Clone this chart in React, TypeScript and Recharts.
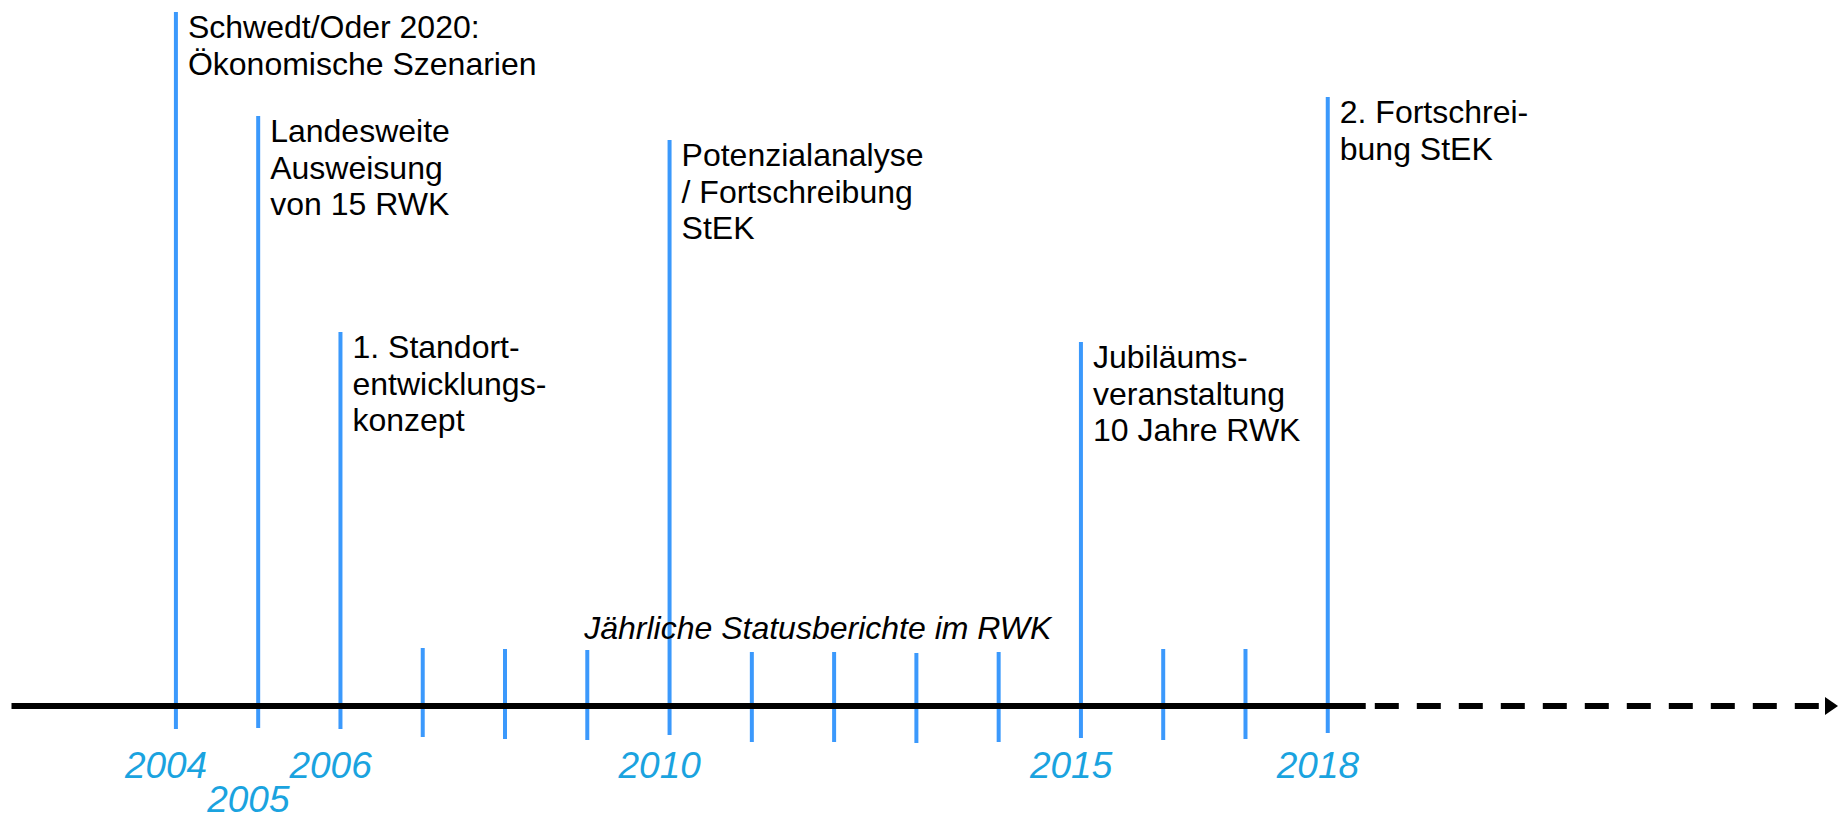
import React from "react";
import {
  ComposedChart,
  Bar,
  XAxis,
  YAxis,
  ReferenceLine,
  LabelList,
} from "recharts";

// timeline years, one stem per year
const years = [
  2004, 2005, 2006, 2007, 2008, 2009, 2010, 2011, 2012, 2013, 2014, 2015, 2016,
  2017, 2018,
];
// stem top / bottom, height above the time axis
const stemTop = [694, 590, 374, 58, 57, 56, 566, 54, 54, 53, 54, 364, 57, 57, 609];
const stemBottom = [
  -23, -22, -23, -31, -33, -34, -29, -36, -36, -37, -36, -32, -34, -33, -27,
];
const eventText: string[][] = [
  ["Schwedt/Oder 2020:", "Ökonomische Szenarien"],
  ["Landesweite", "Ausweisung", "von 15 RWK"],
  ["1. Standort-", "entwicklungs-", "konzept"],
  [],
  [],
  [],
  ["Potenzialanalyse", "/ Fortschreibung", "StEK"],
  [],
  [],
  [],
  [],
  ["Jubiläums-", "veranstaltung", "10 Jahre RWK"],
  [],
  [],
  ["2. Fortschrei-", "bung StEK"],
];
const yearLabels = [2004, 2005, 2006, 2010, 2015, 2018];
const staggeredYears = [2005];
const annualNote = "Jährliche Statusberichte im RWK";
const annualNoteSpan = [2007, 2016.6];
const annualNoteLevel = 67;

const X_DOMAIN: [number, number] = [2002, 2024.2];
const SOLID_END = 2018.46;
const DASH_START = 2018.57;

const STEM = "#3b99fc";
const YEAR_COLOR = "#1aa3df";
const FONT = "'Liberation Sans', Arial, Helvetica, sans-serif";

const data = years.map((year, i) => ({
  year,
  range: [stemBottom[i], stemTop[i]],
}));

const EventLabel = (props: any) => {
  const vb = props.viewBox ?? props;
  const lines = eventText[years.indexOf(props.value)];
  if (!lines || lines.length === 0) return null;
  const top = Math.min(vb.y, vb.y + vb.height);
  const tx = vb.x + vb.width + 10;
  return (
    <text x={tx} y={top + 26} fontSize={32} fill="#000" fontFamily={FONT}>
      {lines.map((line, i) => (
        <tspan key={i} x={tx} dy={i === 0 ? 0 : 36.5}>
          {line}
        </tspan>
      ))}
    </text>
  );
};

const YearTick = (props: any) => {
  const { x, y, payload } = props;
  const low = staggeredYears.includes(payload.value);
  return (
    <text
      x={x - 10}
      y={y + (low ? 67 : 33)}
      textAnchor="middle"
      fontSize={37}
      fontStyle="italic"
      fill={YEAR_COLOR}
      fontFamily={FONT}
    >
      {payload.value}
    </text>
  );
};

const DashedArrow = (props: any) => {
  const { x1, y1, x2, y2 } = props;
  return (
    <g>
      <line
        x1={x1}
        y1={y1}
        x2={x2 - 12}
        y2={y2}
        stroke="#000"
        strokeWidth={6}
        strokeDasharray="24 18"
      />
      <polygon
        points={`${x2 - 13},${y2 - 9} ${x2},${y2} ${x2 - 13},${y2 + 9}`}
        fill="#000"
      />
    </g>
  );
};

const NoteLabel = (props: any) => {
  const vb = props.viewBox;
  return (
    <text
      x={vb.x + vb.width / 2}
      y={vb.y}
      textAnchor="middle"
      fontSize={32}
      fontStyle="italic"
      fill="#000"
      fontFamily={FONT}
    >
      {annualNote}
    </text>
  );
};

const App = () => {
  return (
    <div style={{ position: "absolute", left: 0, top: 0, fontFamily: FONT }}>
      <ComposedChart
        width={1838}
        height={821}
        data={data}
        margin={{ top: 0, right: 0, bottom: 0, left: 11.5 }}
      >
        <XAxis
          type="number"
          dataKey="year"
          domain={X_DOMAIN}
          allowDataOverflow
          ticks={yearLabels}
          tick={<YearTick />}
          axisLine={false}
          tickLine={false}
          tickSize={0}
          tickMargin={0}
          height={76}
          interval={0}
        />
        <YAxis type="number" domain={[-39, 706]} allowDataOverflow hide width={0} />
        <ReferenceLine
          segment={[
            { x: X_DOMAIN[0], y: 0 },
            { x: SOLID_END, y: 0 },
          ]}
          stroke="#000"
          strokeWidth={6}
          ifOverflow="visible"
        />
        <ReferenceLine
          segment={[
            { x: DASH_START, y: 0 },
            { x: X_DOMAIN[1], y: 0 },
          ]}
          ifOverflow="visible"
          shape={<DashedArrow />}
        />
        <ReferenceLine
          segment={[
            { x: annualNoteSpan[0], y: annualNoteLevel },
            { x: annualNoteSpan[1], y: annualNoteLevel },
          ]}
          stroke="none"
          ifOverflow="visible"
          label={<NoteLabel />}
        />
        <Bar dataKey="range" fill={STEM} barSize={4} isAnimationActive={false}>
          <LabelList dataKey="year" content={<EventLabel />} />
        </Bar>
      </ComposedChart>
    </div>
  );
};

export default App;
